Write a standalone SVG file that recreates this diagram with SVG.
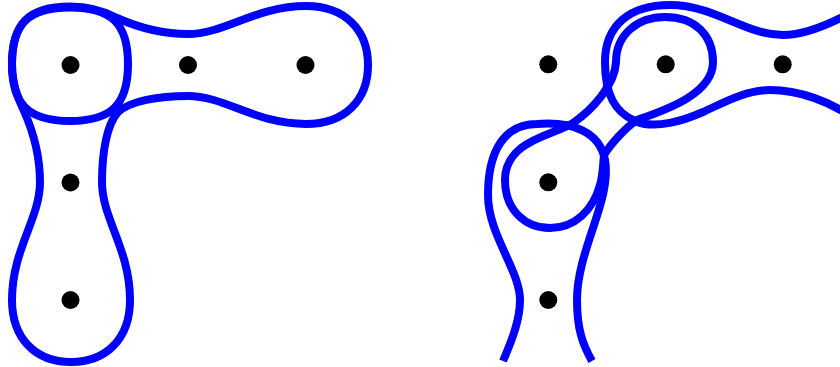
<svg xmlns="http://www.w3.org/2000/svg" width="840" height="367" viewBox="0 0 840 367">
<style>
.curve{fill:none;stroke:#0000ff;stroke-width:8;stroke-linecap:butt;stroke-linejoin:round}
.dot{fill:#000}
</style>
<rect width="840" height="367" fill="#fff"/>
<g id="left-panel">
  <g id="left-curves">
    <path id="left-loop" class="curve" d="M 70,7.5 C 112,7.5 128,24 128,64 C 128,104 112,121 70,121 C 28,121 12,104 12,64 C 12,24 28,7.5 70,7.5 Z"/>
    <path id="left-L" class="curve" d="M 117,18 C 135,26 160,34 188,34 C 225,34 255,6 306,6 C 345,6 368,30 368,65 C 368,100 345,124 306,124 C 255,124 225,96 188,96 C 158,96 130,101 118,112 C 107,124 102,152 102,182 C 102,219 130,249 130,300 C 130,339 106,362 71,362 C 36,362 12,339 12,300 C 12,249 40,219 40,182 C 40,154 32,129 24,111 C 19,100 12,86 12,64 C 12,24 28,6.5 70,6.5 C 90,6.5 104,11 117,18 Z"/>
  </g>
  <g id="left-dots">
    <circle class="dot" cx="70.5" cy="65" r="9"/>
    <circle class="dot" cx="188" cy="65" r="9"/>
    <circle class="dot" cx="305.5" cy="65" r="9"/>
    <circle class="dot" cx="70.5" cy="182.5" r="9"/>
    <circle class="dot" cx="70.5" cy="300" r="9"/>
  </g>
</g>
<g id="right-panel">
  <g id="right-curves">
    <path id="right-band" class="curve" d="M 852,12 C 830,24 805,35 783,35 C 745,35 715,5 670,5 C 630,5 605,25 605,62 C 605,95 615,112 635,121 C 655,130 685,120 703,112 C 721,104 745,90 770,90 C 800,90 830,102 852,117"/>
    <path id="right-figure8" class="curve" d="M 637,120 C 662,111 713,95 713,62 C 713,35 695,17 665,17 C 637,17 616,35 616,62 C 615,85 592,110 573,123 C 555,135 505,140 505,180 C 505,210 525,228 550,228 C 575,228 593,210 600,185 C 603,175 603,165 604,155 C 610,145 625,128 637,120 Z"/>
    <path id="right-arch" class="curve" d="M 503,361 C 512,340 520,320 520,300 C 520,270 488,235 488,195 C 488,150 505,124 537,124 C 572,121 600,132 605,160 C 612,200 577,250 577,300 C 577,330 583,345 592,361"/>
  </g>
  <g id="right-dots">
    <circle class="dot" cx="548.3" cy="64.3" r="9"/>
    <circle class="dot" cx="665.7" cy="64.3" r="9"/>
    <circle class="dot" cx="782.7" cy="64.3" r="9"/>
    <circle class="dot" cx="548.3" cy="182.3" r="9"/>
    <circle class="dot" cx="548.3" cy="300" r="9"/>
  </g>
</g>
</svg>
